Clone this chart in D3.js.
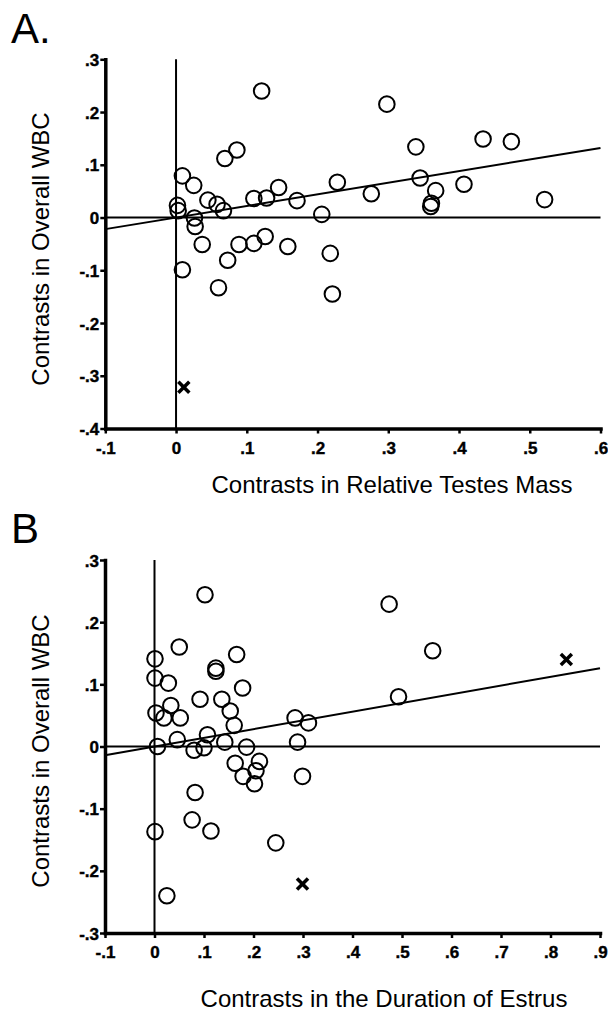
<!DOCTYPE html>
<html>
<head>
<meta charset="utf-8">
<script src="https://cdn.jsdelivr.net/npm/d3@7"></script>
<style>
  html, body { margin: 0; padding: 0; background: #fff; }
  svg { display: block; }
  .title { font-family: "Liberation Sans", Arial, sans-serif; font-size: 24px; fill: #000; }
  .panel { font-family: "Liberation Sans", Arial, sans-serif; font-size: 42px; fill: #000; }
</style>
</head>
<body>
<svg id="chart" width="608" height="1012"></svg>
<script>
// Panel A: relative testes mass vs overall WBC (independent contrasts)
const aTestes = [0.121, 0.086, 0.069, 0.009, 0.025, 0.002, 0.003, 0.045, 0.058, 0.067,
                 0.110, 0.128, 0.145, 0.171, 0.206, 0.228, 0.026, 0.027, 0.037, 0.089,
                 0.110, 0.126, 0.158, 0.218, 0.073, 0.009, 0.060, 0.221, 0.298, 0.339,
                 0.434, 0.474, 0.276, 0.345, 0.367, 0.407, 0.361, 0.360, 0.521];
const aWBC    = [0.240, 0.128, 0.112, 0.079, 0.061, 0.023, 0.013, 0.033, 0.025, 0.013,
                 0.036, 0.037, 0.057, 0.032, 0.006, 0.067, -0.001, -0.017, -0.051, -0.051,
                 -0.049, -0.036, -0.055, -0.068, -0.081, -0.099, -0.133, -0.145, 0.215, 0.134,
                 0.149, 0.144, 0.045, 0.075, 0.051, 0.063, 0.027, 0.021, 0.034];
const aOutX = [0.011];
const aOutY = [-0.322];
const aFitX = [-0.1, 0.6];
const aFitY = [-0.022, 0.132];
const aXTicks = [-0.1, 0, 0.1, 0.2, 0.3, 0.4, 0.5, 0.6];
const aXLabels = ["-.1", "0", ".1", ".2", ".3", ".4", ".5", ".6"];
const aYTicks = [-0.4, -0.3, -0.2, -0.1, 0, 0.1, 0.2, 0.3];
const aYLabels = ["-.4", "-.3", "-.2", "-.1", "0", ".1", ".2", ".3"];

// Panel B: duration of estrus vs overall WBC
const bEstrus = [0.102, 0.050, 0.001, 0.166, 0.124, 0.124, 0.001, 0.028, 0.178, 0.092,
                 0.136, 0.153, 0.033, 0.003, 0.019, 0.052, 0.161, 0.284, 0.311, 0.046,
                 0.107, 0.006, 0.142, 0.289, 0.080, 0.100, 0.186, 0.163, 0.212, 0.205,
                 0.179, 0.202, 0.299, 0.082, 0.076, 0.114, 0.001, 0.245, 0.025, 0.474,
                 0.562, 0.493];
const bWBC    = [0.244, 0.160, 0.141, 0.148, 0.126, 0.121, 0.110, 0.102, 0.094, 0.076,
                 0.076, 0.057, 0.066, 0.054, 0.046, 0.046, 0.034, 0.046, 0.038, 0.011,
                 0.019, 0.000, 0.007, 0.007, -0.006, -0.002, -0.001, -0.027, -0.024, -0.039,
                 -0.048, -0.060, -0.048, -0.074, -0.118, -0.136, -0.137, -0.155, -0.240, 0.229,
                 0.154, 0.080];
const bOutX = [0.299, 0.832];
const bOutY = [-0.221, 0.140];
const bFitX = [-0.1, 0.9];
const bFitY = [-0.014, 0.126];
const bXTicks = [-0.1, 0, 0.1, 0.2, 0.3, 0.4, 0.5, 0.6, 0.7, 0.8, 0.9];
const bXLabels = ["-.1", "0", ".1", ".2", ".3", ".4", ".5", ".6", ".7", ".8", ".9"];
const bYTicks = [-0.3, -0.2, -0.1, 0, 0.1, 0.2, 0.3];
const bYLabels = ["-.3", "-.2", "-.1", "0", ".1", ".2", ".3"];

const yTitle = "Contrasts in Overall WBC";

const svg = d3.select("#chart");

function drawPanel(cfg) {
  const x = d3.scaleLinear().domain(cfg.xDomain).range(cfg.xRange);
  const y = d3.scaleLinear().domain(cfg.yDomain).range(cfg.yRange);
  const g = svg.append("g");

  // panel letter
  g.append("text").attr("class", "panel")
    .attr("x", cfg.letterPos[0]).attr("y", cfg.letterPos[1]).text(cfg.letter);

  // reference lines at zero
  g.append("line")
    .attr("x1", x(cfg.xDomain[0])).attr("x2", x(cfg.xDomain[1]))
    .attr("y1", y(0)).attr("y2", y(0))
    .attr("stroke", "#000").attr("stroke-width", 2);
  g.append("line")
    .attr("x1", x(0)).attr("x2", x(0))
    .attr("y1", y(cfg.yDomain[0])).attr("y2", y(cfg.yDomain[1]))
    .attr("stroke", "#000").attr("stroke-width", 2);

  // fitted regression line
  g.append("line")
    .attr("x1", x(cfg.fitX[0])).attr("y1", y(cfg.fitY[0]))
    .attr("x2", x(cfg.fitX[1])).attr("y2", y(cfg.fitY[1]))
    .attr("stroke", "#000").attr("stroke-width", 2);

  // axes
  const xAxis = d3.axisBottom(x).tickValues(cfg.xTicks)
    .tickFormat((d, i) => cfg.xLabels[i]).tickSizeInner(5).tickSizeOuter(0).tickPadding(8);
  const yAxis = d3.axisLeft(y).tickValues(cfg.yTicks)
    .tickFormat((d, i) => cfg.yLabels[i]).tickSizeInner(5).tickSizeOuter(0).tickPadding(1);

  const gx = g.append("g").attr("transform", `translate(0,${cfg.yRange[0]})`).call(xAxis);
  const gy = g.append("g").attr("transform", `translate(${cfg.xRange[0]},0)`).call(yAxis);
  [gx, gy].forEach(a => {
    a.attr("font-family", "Liberation Sans, Arial, sans-serif")
     .attr("font-size", 17).attr("font-weight", "bold");
    a.select(".domain").attr("stroke-width", 3.5).attr("stroke-linecap", "square");
    a.selectAll(".tick line").attr("stroke-width", 2.5);
    a.selectAll(".tick text").attr("fill", "#000")
      .attr("stroke", "#000").attr("stroke-width", 0.4);
  });
  gy.selectAll(".tick text").attr("dy", "0.36em");

  // open circles
  g.append("g").selectAll("circle")
    .data(d3.range(cfg.px.length))
    .join("circle")
    .attr("cx", i => x(cfg.px[i]))
    .attr("cy", i => y(cfg.py[i]))
    .attr("r", 7.8)
    .attr("fill", "none")
    .attr("stroke", "#000")
    .attr("stroke-width", 2);

  // excluded points drawn as crosses
  const s = 5.5;
  const cross = g.append("g").selectAll("g")
    .data(d3.range(cfg.ox.length))
    .join("g")
    .attr("transform", i => `translate(${x(cfg.ox[i])},${y(cfg.oy[i])})`);
  cross.append("line").attr("x1", -s).attr("y1", -s).attr("x2", s).attr("y2", s)
    .attr("stroke", "#000").attr("stroke-width", 3.5);
  cross.append("line").attr("x1", -s).attr("y1", s).attr("x2", s).attr("y2", -s)
    .attr("stroke", "#000").attr("stroke-width", 3.5);

  // axis titles
  g.append("text").attr("class", "title")
    .attr("text-anchor", "middle")
    .attr("transform", `translate(${cfg.yTitlePos[0]},${cfg.yTitlePos[1]}) rotate(-90)`)
    .text(yTitle);
  g.append("text").attr("class", "title")
    .attr("text-anchor", "middle")
    .attr("x", cfg.xTitlePos[0]).attr("y", cfg.xTitlePos[1])
    .text(cfg.xTitle);
}

drawPanel({
  letter: "A.", letterPos: [11, 43],
  xDomain: [-0.1, 0.6], xRange: [105.3, 600.5],
  yDomain: [-0.4, 0.3], yRange: [428.5, 59.3],
  px: aTestes, py: aWBC, ox: aOutX, oy: aOutY,
  fitX: aFitX, fitY: aFitY,
  xTicks: aXTicks, xLabels: aXLabels, yTicks: aYTicks, yLabels: aYLabels,
  yTitlePos: [49, 249], xTitlePos: [392, 493],
  xTitle: "Contrasts in Relative Testes Mass"
});

drawPanel({
  letter: "B", letterPos: [11, 543],
  xDomain: [-0.1, 0.9], xRange: [105, 600],
  yDomain: [-0.3, 0.3], yRange: [933, 560],
  px: bEstrus, py: bWBC, ox: bOutX, oy: bOutY,
  fitX: bFitX, fitY: bFitY,
  xTicks: bXTicks, xLabels: bXLabels, yTicks: bYTicks, yLabels: bYLabels,
  yTitlePos: [49, 751], xTitlePos: [384, 1007],
  xTitle: "Contrasts in the Duration of Estrus"
});
</script>
</body>
</html>
